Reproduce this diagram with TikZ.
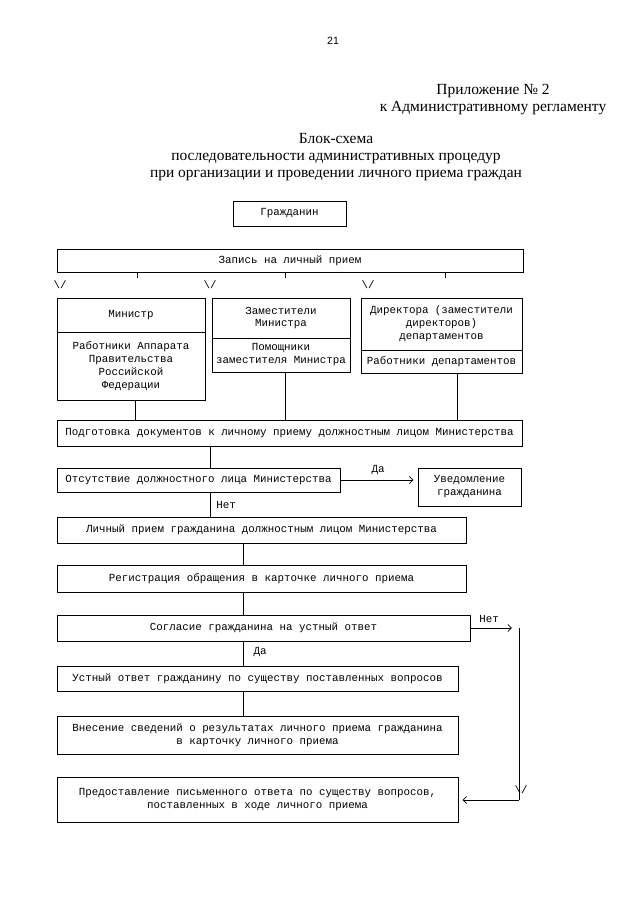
\documentclass[tikz,border=0pt]{standalone}
\usepackage{fontspec}
\setmainfont{Liberation Serif}
\newfontfamily\typew{Liberation Mono}
\newfontfamily\pagesans{Liberation Sans}
\usetikzlibrary{arrows.meta,positioning}

\begin{document}
\begin{tikzpicture}[x=0.025cm,y=-0.025cm,
  every node/.style={font=\typew\fontsize{7.7}{9.2}\selectfont},
  box/.style={draw,line width=.5pt,inner sep=1pt,align=center},
  lnk/.style={line width=.5pt},
  barb/.style={line width=.5pt,-{Straight Barb[length=2.5pt,width=5pt]},shorten >=3pt}]
\useasboundingbox (0,0) rectangle (640,905);
% heading
\node[font=\pagesans\fontsize{7.5}{9}\selectfont] (pnum) at (333,41) {21};
\node[font=\fontsize{11}{12.2}\selectfont,align=center] (app) at (493,99.5) {Приложение № 2\\к Административному регламенту};
\node[font=\fontsize{11}{12.2}\selectfont,align=center] (ttl) at (336,157) {Блок-схема\\последовательности административных процедур\\при организации и проведении личного приема граждан};
% top of the chart
\node[box,minimum width=2.825cm,minimum height=.625cm] (grazh) at (289.5,213.5) {Гражданин};
\node[box,minimum width=11.65cm,minimum height=.575cm] (zapis) at (290,260.5) {Запись на личный прием};
\foreach \dx in {-153,-5,155} \draw[lnk] (zapis.south) ++(\dx,0) -- ++(0,6);
\node (v1) at (60,285) {\textbackslash/};
\node (v2) at (210,285) {\textbackslash/};
\node (v3) at (368,285) {\textbackslash/};
% officials
\node[box,minimum width=3.7cm,minimum height=.85cm] (min1) at (131,315) {Министр};
\node[box,minimum width=3.7cm,minimum height=1.7cm] (min2) at (131,366) {Работники Аппарата\\Правительства\\Российской\\Федерации};
\node[box,minimum width=3.45cm,minimum height=1cm] (zam1) at (281,318) {Заместители\\Министра};
\node[box,minimum width=3.45cm,minimum height=.85cm] (zam2) at (281,355) {Помощники\\заместителя Министра};
\node[box,minimum width=4.025cm,minimum height=1.3cm] (dir1) at (441.5,324) {Директора (заместители\\директоров)\\департаментов};
\node[box,minimum width=4.025cm,minimum height=.575cm] (dir2) at (441.5,361.5) {Работники департаментов};
% procedure
\node[box,minimum width=11.625cm,minimum height=.65cm] (podg) at (289.5,433) {Подготовка документов к личному приему должностным лицом Министерства};
\node[box,minimum width=7.075cm,minimum height=.6cm] (ots) at (198.5,480) {Отсутствие должностного лица Министерства};
\node[box,minimum width=2.575cm,minimum height=.95cm] (uved) at (469.5,487) {Уведомление\\гражданина};
\node[box,minimum width=10.225cm,minimum height=.65cm] (lich) at (261.5,530) {Личный прием гражданина должностным лицом Министерства};
\node[box,minimum width=10.225cm,minimum height=.675cm] (reg) at (261.5,578.5) {Регистрация обращения в карточке личного приема};
\node[box,minimum width=10.325cm,minimum height=.65cm] (sogl) at (263.5,628) {Согласие гражданина на устный ответ};
\node[box,minimum width=10.025cm,minimum height=.625cm] (ustn) at (257.5,678.5) {Устный ответ гражданину по существу поставленных вопросов};
\node[box,minimum width=10.025cm,minimum height=.95cm] (vnes) at (257.5,735) {Внесение сведений о результатах личного приема гражданина\\в карточку личного приема};
\node[box,minimum width=10.025cm,minimum height=1.125cm] (pred) at (257.5,799.5) {Предоставление письменного ответа по существу вопросов,\\поставленных в ходе личного приема};
% connectors
\coordinate (m1) at ([xshift=.1cm]min2.south);
\coordinate (z1) at ([xshift=.1cm]zam2.south);
\coordinate (d1) at ([xshift=.4cm]dir2.south);
\draw[lnk] (m1) -- (m1 |- podg.north);
\draw[lnk] (z1) -- (z1 |- podg.north);
\draw[lnk] (d1) -- (d1 |- podg.north);
\coordinate (o1) at ([xshift=.29cm]ots.north);
\draw[lnk] (o1 |- podg.south) -- (o1);
\draw[lnk] (o1 |- ots.south) -- (o1 |- lich.north);
\node (net1) at (226,505) {Нет};
\draw[barb] (ots.east) -- (ots.east -| uved.west);
\node (da1) at (378,470) {Да};
\coordinate (l1) at ([xshift=-.4625cm]lich.south);
\draw[lnk] (l1) -- (l1 |- reg.north);
\draw[lnk] (l1 |- reg.south) -- (l1 |- sogl.north);
\draw[lnk] (l1 |- sogl.south) -- (l1 |- ustn.north);
\node (da2) at (260,652) {Да};
\draw[lnk] (l1 |- ustn.south) -- (l1 |- vnes.north);
% refusal loop
\coordinate (r1) at (519,628);
\coordinate (r2) at (519,800);
\draw[barb,shorten >=5pt] (sogl.east) -- (r1);
\node (net2) at (489,619) {Нет};
\draw[lnk] (r1) -- (r2);
\node (v4) at (521,790) {\textbackslash/};
\draw[barb] (r2) -- (r2 -| pred.east);
\end{tikzpicture}
\end{document}
